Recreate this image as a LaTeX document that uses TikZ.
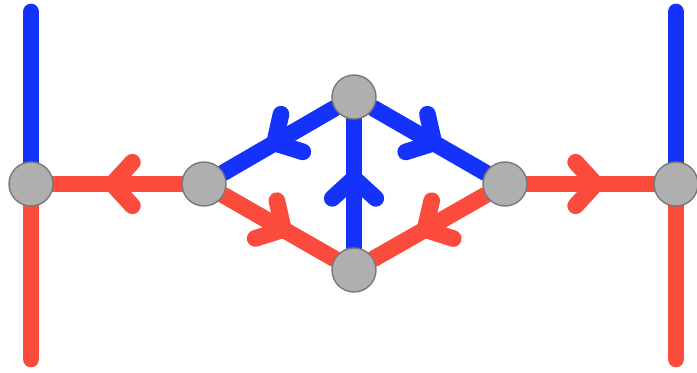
\documentclass[tikz,border=0pt]{standalone}
\usetikzlibrary{arrows.meta, decorations.markings, backgrounds}
\definecolor{edgeblue}{RGB}{20, 50, 250}
\definecolor{edgered}{RGB}{250, 75, 60}
\definecolor{vertgray}{RGB}{175, 175, 175}
\definecolor{rimgray}{RGB}{120, 120, 120}
\begin{document}
\begin{tikzpicture}[>=Latex,
      v/.style={circle, draw=rimgray, line width=0.8pt, fill=vertgray, minimum size=0.88cm, inner sep=0pt},
      e/.style={line width=9.5pt, line cap=round},
      mid/.style={postaction={decorate, decoration={markings,
          mark=at position 0.5 with {\begin{scope}[xshift=0.27cm]
            \arrow{Straight Barb[length=0.4cm, width=0.87cm, round]}\end{scope}}}}}]
    \useasboundingbox (0, 0) rectangle (13.94, 7.44);
    % vertices
    \node[v] (l) at (0.62, 3.76) {};
    \node[v] (a) at (4.08, 3.76) {};
    \node[v] (t) at (7.08, 5.50) {};
    \node[v] (b) at (7.08, 2.04) {};
    \node[v] (r) at (10.10, 3.76) {};
    \node[v] (rr) at (13.52, 3.76) {};
    % free ends
    \coordinate (lup) at (0.62, 7.20);
    \coordinate (ldown) at (0.62, 0.26);
    \coordinate (rup) at (13.52, 7.20);
    \coordinate (rdown) at (13.52, 0.26);
    \begin{scope}[on background layer]
      \draw[e, edgeblue] (l.center) -- (lup);
      \draw[e, edgered] (l.center) -- (ldown);
      \draw[e, edgeblue] (rr.center) -- (rup);
      \draw[e, edgered] (rr.center) -- (rdown);
      \draw[e, edgered, mid] (a) -- (l);
      \draw[e, edgered, mid] (r) -- (rr);
      \draw[e, edgeblue, mid] (t) -- (a);
      \draw[e, edgeblue, mid] (t) -- (r);
      \draw[e, edgeblue, mid] (b) -- (t);
      \draw[e, edgered, mid] (a) -- (b);
      \draw[e, edgered, mid] (r) -- (b);
    \end{scope}
  \end{tikzpicture}
\end{document}
